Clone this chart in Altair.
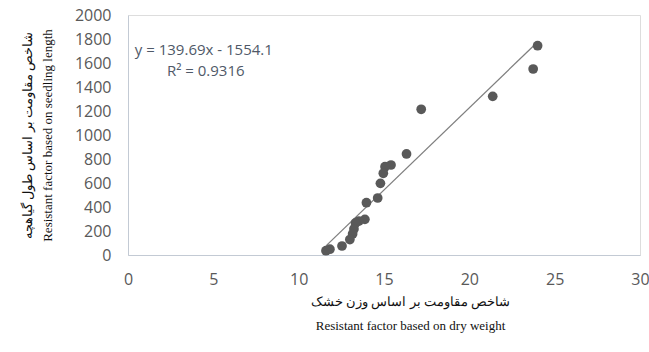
import altair as alt
import pandas as pd

# Data
dry_weight = [24.00, 23.74, 21.37, 17.18, 16.32, 15.41, 15.06, 14.96, 14.79, 14.63,
              13.97, 13.88, 13.53, 13.33, 13.24, 13.16, 13.00, 12.54, 11.83, 11.60]
seedling_length = [1744, 1550, 1322, 1214, 842, 750, 736, 681, 597, 475,
                   436, 297, 283, 267, 217, 175, 129, 75, 48, 36]

x_ticks = [0, 5, 10, 15, 20, 25, 30]
y_ticks = [0, 200, 400, 600, 800, 1000, 1200, 1400, 1600, 1800, 2000]

eq_lines = ["y = 139.69x - 1554.1", "R² = 0.9316"]
eq_x = [0.4, 2.28]
eq_y = [1708, 1533]

x_title = ["شاخص مقاومت بر اساس وزن خشک", "Resistant factor based on dry weight"]
y_title = ["شاخص مقاومت بر اساس طول گیاهچه", "Resistant factor based on seedling length"]

df = pd.DataFrame({"x": dry_weight, "y": seedling_length})
eq = pd.DataFrame({"t": eq_lines, "x": eq_x, "y": eq_y})

tick_color = "#595959"
axis_color = "#c3cad4"

xs = alt.Scale(domain=[0, 30], nice=False)
ys = alt.Scale(domain=[0, 2000], nice=False)

x_axis = alt.Axis(values=x_ticks, grid=False, ticks=False, domainColor=axis_color,
                  labelColor=tick_color, labelFont="Open Sans", labelFontSize=16,
                  labelPadding=16, labelOverlap=False, labelFlush=False, format="d",
                  title=x_title, titleFont="Liberation Serif",
                  titleFontSize=13, titleFontWeight="normal", titleColor="#111111",
                  titleLineHeight=24, titleX=282, titleY=40, titleBaseline="top",
                  titleAlign="center")
y_axis = alt.Axis(values=y_ticks, grid=False, ticks=False, domainColor=axis_color,
                  labelColor=tick_color, labelFont="Open Sans", labelFontSize=16,
                  labelPadding=17, labelOverlap=False, labelFlush=False, format="d",
                  title=y_title, titleFont="Liberation Serif",
                  titleFontSize=13, titleFontWeight="normal", titleColor="#111111",
                  titleLineHeight=20, titlePadding=20)

X = alt.X("x:Q", scale=xs, axis=x_axis)
Y = alt.Y("y:Q", scale=ys, axis=y_axis)

points = alt.Chart(df).mark_circle(size=95, color="#595959", opacity=1).encode(x=X, y=Y)

trend = alt.Chart(df).transform_regression("x", "y").mark_line(
    color="#7f7f7f", strokeWidth=1.3).encode(x=X, y=Y)

text = alt.Chart(eq).mark_text(align="left", baseline="middle", font="Open Sans",
                               fontSize=15, color="#4f5968").encode(
    x=X, y=Y, text="t:N")

chart = alt.layer(trend, points, text).properties(
    width=512, height=240,
    autosize=alt.AutoSizeParams(type="none"),
    padding={"left": 128, "top": 15, "right": 9, "bottom": 97},
).configure_view(stroke=None).configure(background="white")

chart.save("out.html", embed_options={"renderer": "svg", "actions": False})
